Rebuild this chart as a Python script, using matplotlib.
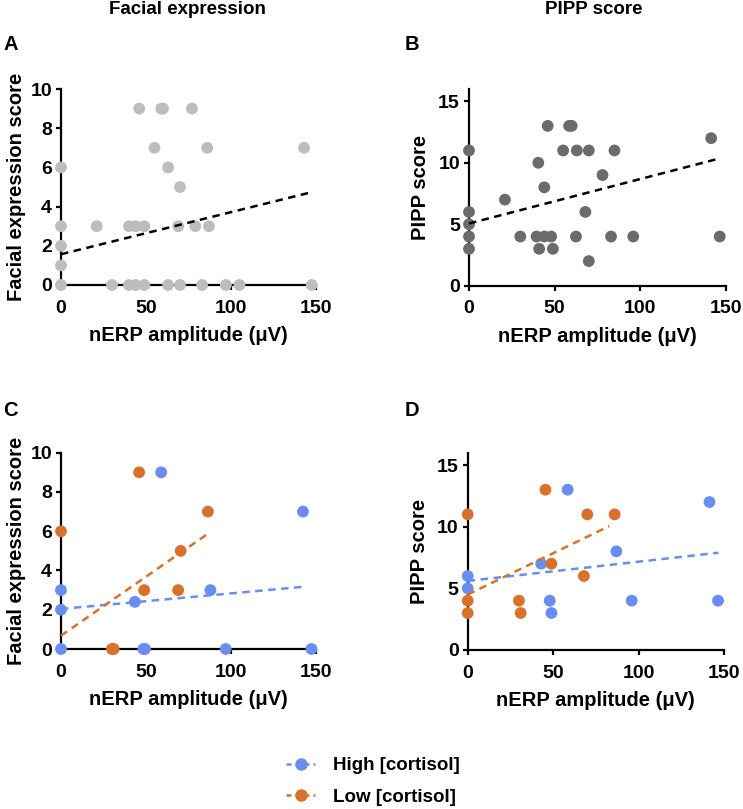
import matplotlib
matplotlib.use("Agg")
import matplotlib.pyplot as plt
from matplotlib.lines import Line2D

plt.rcParams["font.family"] = ["Liberation Sans", "DejaVu Sans"]
plt.rcParams["font.weight"] = "bold"

# panel A: facial expression vs nERP (all infants)
a_x = [0, 0, 0, 0, 0, 21, 30, 40, 40, 44, 44, 46, 49, 49, 55, 59, 60, 63, 63,
       69, 70, 70, 77, 79, 83, 86, 87, 97, 105, 143, 147.5]
a_y = [6, 3, 2, 1, 0, 3, 0, 3, 0, 3, 0, 9, 3, 0, 7, 9, 9, 6, 0,
       3, 5, 0, 9, 3, 0, 7, 3, 0, 0, 7, 0]
a_fit_x = [0, 146.7]
a_fit_y = [1.57, 4.72]

# panel B: PIPP vs nERP (all infants)
b_x = [0, 0, 0, 0, 0, 21, 30, 39.5, 40.5, 41, 44, 44, 46, 48, 49, 55, 58.5, 60,
       62.5, 63, 68, 70, 70, 78, 83, 85, 96, 141.5, 146.5]
b_y = [11, 6, 5, 4, 3, 7, 4, 4, 10, 3, 4, 8, 13, 4, 3, 11, 13, 13,
       4, 11, 6, 11, 2, 9, 4, 11, 4, 12, 4]
b_fit_x = [0, 144.7]
b_fit_y = [5.06, 10.29]

# panel C: facial expression split by cortisol
c_high_x = [0, 0, 0, 43.5, 48.5, 49.5, 59, 88, 97, 142.5, 147.5]
c_high_y = [3, 2, 0, 2.4, 0, 0, 9, 3, 0, 7, 0]
c_low_x = [0, 30, 31, 46, 49, 69, 70.5, 86.5]
c_low_y = [6, 0, 0, 9, 3, 3, 5, 7]
c_high_fit_x = [0, 142.7]
c_high_fit_y = [2.04, 3.17]
c_low_fit_x = [0, 86]
c_low_fit_y = [0.68, 5.84]

# panel D: PIPP split by cortisol
d_high_x = [0, 0, 43, 48, 49, 58.5, 87, 96, 141.5, 146.5]
d_high_y = [6, 5, 7, 4, 3, 13, 8, 4, 12, 4]
d_low_x = [0, 0, 0, 30, 31, 45.5, 49, 68, 70, 86]
d_low_y = [11, 4, 3, 4, 3, 13, 7, 6, 11, 11]
d_high_fit_x = [0, 146.7]
d_high_fit_y = [5.6, 7.89]
d_low_fit_x = [0, 82.9]
d_low_fit_y = [4.5, 10.05]

light_grey = "#BDBDBD"
dark_grey = "#6B6B6B"
blue = "#6A8DF2"
orange = "#D8712B"

W, H = 743, 809
fig = plt.figure(figsize=(W / 100, H / 100), dpi=100)


def make_ax(x0, x1, ytop, ybot):
    return fig.add_axes([x0 / W, 1 - ybot / H, (x1 - x0) / W, (ybot - ytop) / H])


def style(ax, ymax, yticks, ylabel, ypad):
    ax.set_xlim(0, 150)
    ax.set_ylim(0, ymax)
    ax.set_xticks([0, 50, 100, 150])
    ax.set_yticks(yticks)
    for s in ["top", "right"]:
        ax.spines[s].set_visible(False)
    for s in ["left", "bottom"]:
        ax.spines[s].set_linewidth(1.6)
    ax.tick_params(width=1.6, length=3.5, labelsize=14)
    ax.tick_params(axis="x", pad=7)
    ax.tick_params(axis="y", pad=3)
    for lab in ax.get_xticklabels() + ax.get_yticklabels():
        lab.set_fontweight("bold")
    ax.set_xlabel("nERP amplitude (\u03bcV)", fontsize=14.5, fontweight="bold", labelpad=7)
    ax.set_ylabel(ylabel, fontsize=14.5, fontweight="bold", labelpad=ypad)


def pts(ax, x, y, c):
    ax.scatter(x, y, s=72, color=c, edgecolors="none", clip_on=False, zorder=3)


def fit(ax, x, y, c):
    ax.plot(x, y, color=c, lw=1.8, ls=(0, (3.0, 2.2)), zorder=4, clip_on=False)


axA = make_ax(61, 316, 89, 285)
pts(axA, a_x, a_y, light_grey)
fit(axA, a_fit_x, a_fit_y, "black")
style(axA, 10, [0, 2, 4, 6, 8, 10], "Facial expression score", 3)

axB = make_ax(469, 725.7, 89, 285.7)
pts(axB, b_x, b_y, dark_grey)
fit(axB, b_fit_x, b_fit_y, "black")
style(axB, 16, [0, 5, 10, 15], "PIPP score", 6)

axC = make_ax(61, 315.7, 452.7, 649)
pts(axC, c_high_x, c_high_y, blue)
pts(axC, c_low_x, c_low_y, orange)
fit(axC, c_high_fit_x, c_high_fit_y, blue)
fit(axC, c_low_fit_x, c_low_fit_y, orange)
style(axC, 10, [0, 2, 4, 6, 8, 10], "Facial expression score", 3)

axD = make_ax(467.7, 724, 452.7, 650)
pts(axD, d_high_x, d_high_y, blue)
pts(axD, d_low_x, d_low_y, orange)
fit(axD, d_high_fit_x, d_high_fit_y, blue)
fit(axD, d_low_fit_x, d_low_fit_y, orange)
style(axD, 16, [0, 5, 10, 15], "PIPP score", 6)

# column titles and panel letters
fig.text(187 / W, 1 - 10 / H, "Facial expression", ha="center", va="center",
         fontsize=13.5, fontweight="bold")
fig.text(594 / W, 1 - 10 / H, "PIPP score", ha="center", va="center",
         fontsize=13.5, fontweight="bold")
for lx, ly, letter in [(3, 45, "A"), (405, 45, "B"), (3, 410, "C"), (405, 410, "D")]:
    fig.text(lx / W, 1 - ly / H, letter, ha="left", va="center",
             fontsize=14.5, fontweight="bold")

handles = [
    Line2D([], [], color=blue, ls=(0, (2, 1.6)), lw=1.8, marker="o", markersize=8),
    Line2D([], [], color=orange, ls=(0, (2, 1.6)), lw=1.8, marker="o", markersize=8),
]
fig.legend(handles, ["High [cortisol]", "Low [cortisol]"],
           loc="center left", bbox_to_anchor=(286 / W, 1 - 781.5 / H), frameon=False,
           prop={"size": 13.5, "weight": "bold"}, handlelength=1.55,
           labelspacing=0.78, handletextpad=0.95, borderpad=0, borderaxespad=0)

fig.savefig("out.png", dpi=100)
